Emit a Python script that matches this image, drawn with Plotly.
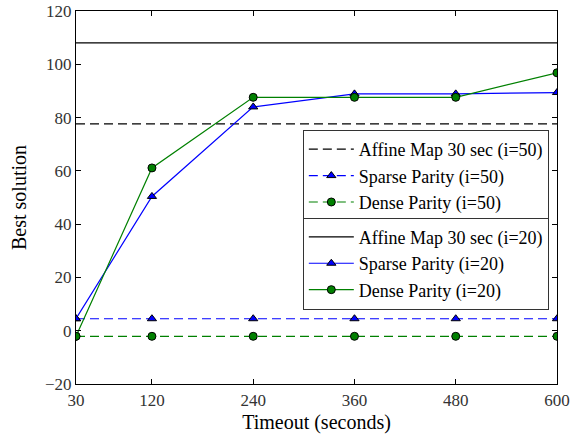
import plotly.graph_objects as go

# Timeouts (seconds) on the x axis
timeouts = [30, 120, 240, 360, 480, 600]

# i=50 runs
affine_50 = [77.6, 77.6, 77.6, 77.6, 77.6, 77.6]
sparse_50 = [4.5, 4.5, 4.5, 4.5, 4.5, 4.5]
dense_50 = [-2.1, -2.1, -2.1, -2.1, -2.1, -2.1]

# i=20 runs
affine_20 = [108, 108, 108, 108, 108, 108]
sparse_20 = [4.5, 50.4, 84.0, 88.9, 88.9, 89.4]
dense_20 = [-2.1, 61.1, 87.6, 87.6, 87.6, 96.8]

x_ticks = [30, 120, 240, 360, 480, 600]
y_ticks = [-20, 0, 20, 40, 60, 80, 100, 120]
y_tick_text = ["\u221220", "0", "20", "40", "60", "80", "100", "120"]

FONT = "Liberation Serif"
BLUE = "#0000ff"
GREEN = "#008000"
DASH = "9px,5px"

fig = go.Figure()

tri = dict(symbol="triangle-up", size=8, color=BLUE, line=dict(color="black", width=1))
circ = dict(symbol="circle", size=8, color=GREEN, line=dict(color="black", width=1))

fig.add_trace(go.Scatter(x=timeouts, y=affine_50, mode="lines", name="Affine Map 30 sec (i=50)",
                         line=dict(color="black", width=1.2, dash=DASH), legend="legend"))
fig.add_trace(go.Scatter(x=timeouts, y=sparse_50, mode="lines+markers", name="Sparse Parity (i=50)",
                         line=dict(color=BLUE, width=1.2, dash=DASH), marker=tri, legend="legend"))
fig.add_trace(go.Scatter(x=timeouts, y=dense_50, mode="lines+markers", name="Dense Parity (i=50)",
                         line=dict(color=GREEN, width=1.2, dash=DASH), marker=circ, legend="legend"))

fig.add_trace(go.Scatter(x=timeouts, y=affine_20, mode="lines", name="Affine Map 30 sec (i=20)",
                         line=dict(color="black", width=1.2), legend="legend2"))
fig.add_trace(go.Scatter(x=timeouts, y=sparse_20, mode="lines+markers", name="Sparse Parity (i=20)",
                         line=dict(color=BLUE, width=1.2), marker=tri, legend="legend2"))
fig.add_trace(go.Scatter(x=timeouts, y=dense_20, mode="lines+markers", name="Dense Parity (i=20)",
                         line=dict(color=GREEN, width=1.2), marker=circ, legend="legend2"))

axis_common = dict(showline=True, linecolor="black", linewidth=1.2, mirror="allticks",
                   ticks="inside", ticklen=5, tickcolor="black", showgrid=False, zeroline=False,
                   automargin=False,
                   tickfont=dict(family=FONT, size=17, color="#333333"))

fig.update_xaxes(range=[30, 600], tickvals=x_ticks, ticktext=[str(t) for t in x_ticks],
                 title=dict(text="Timeout (seconds)", font=dict(family=FONT, size=20, color="black"),
                            standoff=9), **axis_common)
fig.update_yaxes(range=[-20, 120], tickvals=y_ticks, ticktext=y_tick_text,
                 title=dict(text="Best solution", font=dict(family=FONT, size=20, color="black"),
                            standoff=12), **axis_common)

legend_common = dict(xanchor="right", yanchor="top", bgcolor="white", bordercolor="#333333",
                     borderwidth=1, font=dict(family=FONT, size=18, color="black"),
                     tracegroupgap=0, itemwidth=45)

fig.update_layout(
    width=584, height=434,
    margin=dict(l=76, r=27, t=11, b=50),
    plot_bgcolor="white", paper_bgcolor="white",
    font=dict(family=FONT),
    legend=dict(x=0.983, y=0.681, **legend_common),
    legend2=dict(x=0.983, y=0.446, **legend_common),
)

fig.write_html("out.html")
